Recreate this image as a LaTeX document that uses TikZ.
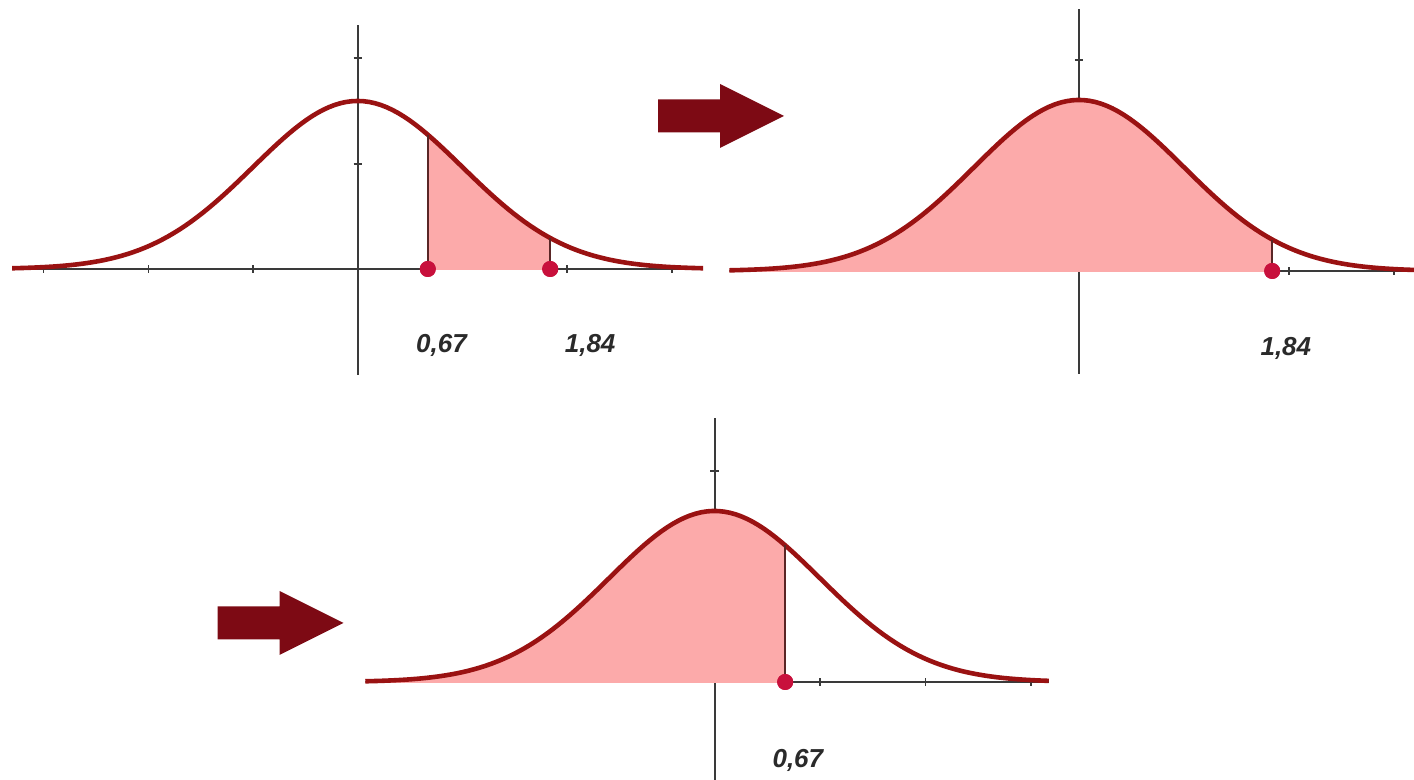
\documentclass[tikz,border=0pt]{standalone}
\usepackage{fontspec}
\setmainfont{Liberation Sans}
\definecolor{bellred}{HTML}{9A1212}
\definecolor{pink}{HTML}{FCAAAA}
\definecolor{dotred}{HTML}{C8103C}
\definecolor{arrowred}{HTML}{7D0A14}
\definecolor{axisgray}{HTML}{3A3A3A}
\definecolor{labgray}{HTML}{2A2A2A}
\definecolor{cutbrown}{HTML}{5A2626}

\begin{document}
\begin{tikzpicture}[x=0.5pt,y=0.5pt,
axis/.style={draw=axisgray,line width=1pt},tick/.style={draw=axisgray,line width=.8pt},
bell/.style={draw=bellred,line width=2.3pt,line join=round},area/.style={fill=pink},
cut/.style={draw=cutbrown,line width=1pt},zdot/.style={circle,fill=dotred,inner sep=0pt,minimum size=8pt},
zlab/.style={font=\fontsize{13}{15}\selectfont\bfseries\itshape,text=labgray},
blockarr/.style={fill=arrowred}]
\useasboundingbox (0,0) rectangle (1414,780);
% first curve: area between 0,67 and 1,84
\begin{scope}[shift={(357.7,511)},xscale=104.7]
\draw[axis] (0,-106)--(0,244);\draw[axis] (-3.3,0)--(3.3,0);
\foreach \i in {-3,-2,-1,2,3} \draw[tick] (\i,-4)--(\i,4);
\foreach \j in {105,211} \draw[tick] (-.04,\j)--(.04,\j);
\fill[area] plot[domain=.67:1.84,samples=40] (\x,{168*exp(-\x*\x/2)})--(1.84,-1)--(.67,-1)--cycle;
\draw[bell] plot[domain=-3.3:3.3,samples=121] (\x,{168*exp(-\x*\x/2)});
\coordinate (a1) at (.67,{168*exp(-.67*.67/2)});\coordinate (b1) at (1.84,{168*exp(-1.84*1.84/2)});
\node[zdot] (p1) at (.67,0) {};\node[zdot] (q1) at (1.84,0) {};
\draw[cut] (p1.center)--(a1);\draw[cut] (q1.center)--(b1);
\node[zdot] at (p1) {};\node[zdot] at (q1) {};
\node[zlab] (l1) at (.80,-76) {0,67};
\node[zlab] (m1) at (2.22,-76) {1,84};
\end{scope}
% second curve: area left of 1,84
\begin{scope}[shift={(1079,509)},xscale=105]
\draw[axis] (0,-103)--(0,262);\draw[axis] (-3.33,0)--(3.2,0);
\foreach \i in {2,3} \draw[tick] (\i,-4)--(\i,4);
\foreach \j in {211} \draw[tick] (-.04,\j)--(.04,\j);
\fill[area] plot[domain=-3.33:1.84,samples=80] (\x,{171*exp(-\x*\x/2)})--(1.84,-1)--(-3.33,-1)--cycle;
\draw[bell] plot[domain=-3.33:3.2,samples=121] (\x,{171*exp(-\x*\x/2)});
\coordinate (b2) at (1.84,{171*exp(-1.84*1.84/2)});
\node[zdot] (q2) at (1.84,0) {};
\draw[cut] (q2.center)--(b2);\node[zdot] at (q2) {};
\node[zlab] (m2) at (1.97,-77) {1,84};
\end{scope}
% third curve: area left of 0,67
\begin{scope}[shift={(714.5,98)},xscale=105.5]
\draw[axis] (0,-98)--(0,264);\draw[axis] (-3.31,0)--(3.17,0);
\foreach \i in {1,2,3} \draw[tick] (\i,-4)--(\i,4);
\foreach \j in {211} \draw[tick] (-.04,\j)--(.04,\j);
\fill[area] plot[domain=-3.31:.67,samples=70] (\x,{171*exp(-\x*\x/2)})--(.67,-1)--(-3.31,-1)--cycle;
\draw[bell] plot[domain=-3.31:3.17,samples=121] (\x,{171*exp(-\x*\x/2)});
\coordinate (a3) at (.67,{171*exp(-.67*.67/2)});
\node[zdot] (p3) at (.67,0) {};
\draw[cut] (p3.center)--(a3);\node[zdot] at (p3) {};
\node[zlab] (l3) at (.79,-78) {0,67};
\end{scope}
% block arrows
\foreach \ax/\ay in {658/664,217.5/157}
\fill[blockarr] (\ax,\ay) ++(0,16.5)--++(62,0)--++(0,15.5)--++(64,-32)--++(-64,-32)--++(0,15.5)--++(-62,0)--cycle;
\end{tikzpicture}
\end{document}
